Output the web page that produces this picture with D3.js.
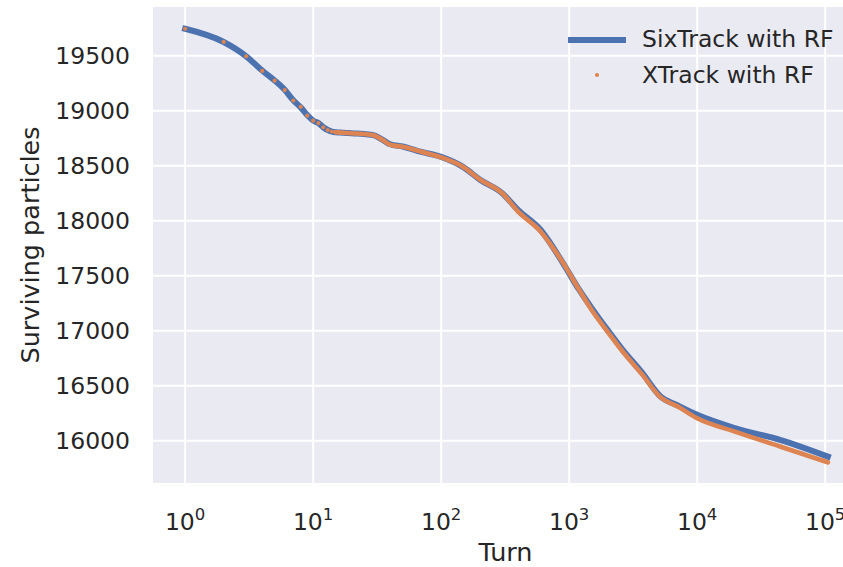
<!DOCTYPE html>
<html>
<head>
<meta charset="utf-8">
<script src="https://cdn.jsdelivr.net/npm/d3@7"></script>
<style>
  body { margin: 0; background: #fff; }
  text { font-family: "DejaVu Sans", sans-serif; fill: #262626; }
</style>
</head>
<body>
<script>
// turns sampled along the curves
var turns = [1, 2, 3, 4, 5, 6, 7, 8, 9, 10, 11, 12, 13, 14, 15, 16, 17, 18, 19, 20,
  25, 30, 35, 40, 50, 70, 100, 150, 200, 300, 400, 600, 900, 1200, 1500, 2000,
  2600, 3700, 5200, 7000, 10000, 20000, 45000, 105000];

var sixTrack = [19745, 19625, 19495, 19365, 19275, 19190, 19095, 19030, 18960, 18910,
  18888, 18850, 18825, 18810, 18804, 18802, 18800, 18798, 18797, 18795,
  18788, 18775, 18735, 18695, 18675, 18625, 18580, 18485, 18375, 18250, 18095, 17915,
  17610, 17370, 17205, 17005, 16830, 16620, 16400, 16322, 16235, 16112, 16005, 15855];

var xTrack = [19745, 19625, 19495, 19362, 19273, 19188, 19092, 19035, 18955, 18909,
  18888, 18849, 18824, 18810, 18804, 18802, 18800, 18798, 18797, 18795,
  18788, 18775, 18733, 18690, 18672, 18627, 18576, 18486, 18375, 18249, 18082, 17900,
  17613, 17370, 17188, 16990, 16815, 16605, 16392, 16312, 16203, 16080, 15945, 15803];

var yTicks = [16000, 16500, 17000, 17500, 18000, 18500, 19000, 19500];
var xTicks = [1, 10, 100, 1000, 10000, 100000];
var seriesNames = ["SixTrack with RF", "XTrack with RF"];

var width = 843;
var height = 567;
var plotLeft = 153, plotRight = 860, plotTop = 7, plotBottom = 483;

var svg = d3.select("body")
  .append("svg")
  .attr("width", width)
  .attr("height", height);

// log x axis with 5% padding in log space
var span = Math.log10(d3.max(turns) / d3.min(turns));
var pad = 0.05 * span;
var xScale = d3.scaleLog()
  .domain([d3.min(turns) / Math.pow(10, pad), d3.max(turns) * Math.pow(10, pad)])
  .range([plotLeft, plotRight]);

var yScale = d3.scaleLinear()
  .domain([15615, 19943])
  .range([plotBottom, plotTop]);

svg.append("clipPath").attr("id", "plot")
  .append("rect")
  .attr("x", plotLeft).attr("y", plotTop)
  .attr("width", plotRight - plotLeft).attr("height", plotBottom - plotTop);

svg.append("rect")
  .attr("x", plotLeft).attr("y", plotTop)
  .attr("width", plotRight - plotLeft).attr("height", plotBottom - plotTop)
  .attr("fill", "#EAEAF2");

var grid = svg.append("g").attr("clip-path", "url(#plot)");

grid.selectAll(".gy")
  .data(yTicks)
  .enter()
  .append("line")
  .attr("x1", plotLeft).attr("x2", plotRight)
  .attr("y1", function(d) { return yScale(d); })
  .attr("y2", function(d) { return yScale(d); })
  .attr("stroke", "#fff")
  .attr("stroke-width", 2);

grid.selectAll(".gx")
  .data(xTicks)
  .enter()
  .append("line")
  .attr("y1", plotTop).attr("y2", plotBottom)
  .attr("x1", function(d) { return xScale(d); })
  .attr("x2", function(d) { return xScale(d); })
  .attr("stroke", "#fff")
  .attr("stroke-width", 2);

// y tick labels
svg.selectAll(".ty")
  .data(yTicks)
  .enter()
  .append("text")
  .attr("x", 130)
  .attr("y", function(d) { return yScale(d); })
  .attr("dy", "0.36em")
  .attr("text-anchor", "end")
  .attr("font-size", "23.5px")
  .text(function(d) { return d; });

// x tick labels as 10^n
var tx = svg.selectAll(".tx")
  .data(xTicks)
  .enter()
  .append("text")
  .attr("x", function(d) { return xScale(d); })
  .attr("y", 530)
  .attr("text-anchor", "middle")
  .attr("font-size", "23.5px");
tx.append("tspan").text("10");
tx.append("tspan")
  .attr("font-size", "16.5px")
  .attr("dy", -10.5)
  .text(function(d) { return Math.round(Math.log10(d)); });

svg.append("text")
  .attr("x", (plotLeft + 858) / 2)
  .attr("y", 561)
  .attr("text-anchor", "middle")
  .attr("font-size", "25.5px")
  .text("Turn");

svg.append("text")
  .attr("transform", "translate(39," + ((plotTop + plotBottom) / 2) + ") rotate(-90)")
  .attr("text-anchor", "middle")
  .attr("font-size", "25.5px")
  .text("Surviving particles");

var plot = svg.append("g").attr("clip-path", "url(#plot)");

var sixLine = d3.line()
  .x(function(d, i) { return xScale(turns[i]); })
  .y(function(d) { return yScale(d); })
  .curve(d3.curveMonotoneX);

plot.append("path")
  .datum(sixTrack)
  .attr("d", sixLine)
  .attr("fill", "none")
  .attr("stroke", "#4C72B0")
  .attr("stroke-width", 6)
  .attr("stroke-linecap", "square");

// XTrack points: sparse dots at low turns, so dense further on they merge
var xPts = xTrack.map(function(v, i) { return [turns[i], v]; });
var denseLine = d3.line()
  .x(function(d) { return xScale(d[0]); })
  .y(function(d) { return yScale(d[1]); })
  .curve(d3.curveMonotoneX);

plot.append("path")
  .datum(xPts.filter(function(d) { return d[0] >= 15; }))
  .attr("d", denseLine)
  .attr("fill", "none")
  .attr("stroke", "#DD8452")
  .attr("stroke-width", 4.6)
  .attr("stroke-linecap", "round");

plot.selectAll("circle")
  .data(xPts)
  .enter()
  .append("circle")
  .attr("cx", function(d) { return xScale(d[0]); })
  .attr("cy", function(d) { return yScale(d[1]); })
  .attr("r", 2.1)
  .attr("fill", "#DD8452");

// legend
var legend = svg.append("g");
legend.append("line")
  .attr("x1", 571).attr("x2", 623)
  .attr("y1", 40).attr("y2", 40)
  .attr("stroke", "#4C72B0")
  .attr("stroke-width", 6)
  .attr("stroke-linecap", "square");
legend.append("circle")
  .attr("cx", 597).attr("cy", 75)
  .attr("r", 2.1)
  .attr("fill", "#DD8452");
legend.selectAll(".lt")
  .data(seriesNames)
  .enter()
  .append("text")
  .attr("x", 642)
  .attr("y", function(d, i) { return 46.5 + i * 36.5; })
  .attr("font-size", "23.5px")
  .text(function(d) { return d; });
</script>
</body>
</html>
